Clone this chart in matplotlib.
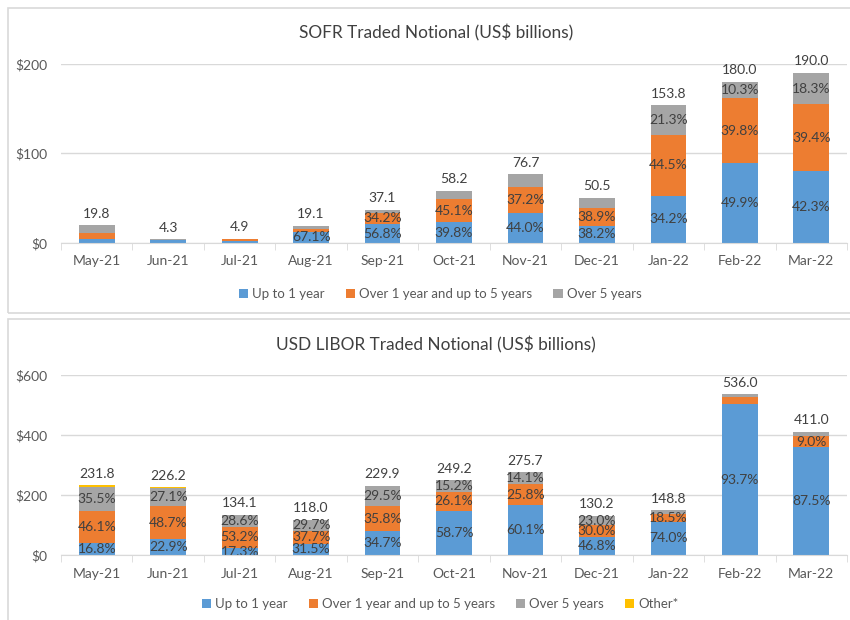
import matplotlib
matplotlib.use("Agg")
import numpy as np
from matplotlib import pyplot as plt
from matplotlib.patches import Rectangle

plt.rcParams["font.family"] = ["Lato", "DejaVu Sans"]

months = ["May-21", "Jun-21", "Jul-21", "Aug-21", "Sep-21", "Oct-21",
          "Nov-21", "Dec-21", "Jan-22", "Feb-22", "Mar-22"]

# SOFR (US$ bn) and split in % of total
sofr_total = [19.8, 4.3, 4.9, 19.1, 37.1, 58.2, 76.7, 50.5, 153.8, 180.0, 190.0]
sofr_up1 = [22.0, 65.0, 40.0, 67.1, 56.8, 39.8, 44.0, 38.2, 34.2, 49.9, 42.3]
sofr_1to5 = [34.0, 25.0, 50.0, 15.0, 34.2, 45.1, 37.2, 38.9, 44.5, 39.8, 39.4]
sofr_over5 = [44.0, 10.0, 10.0, 17.9, 9.0, 15.1, 18.8, 22.9, 21.3, 10.3, 18.3]
sofr_up1_shown = [3, 4, 5, 6, 7, 8, 9, 10]
sofr_1to5_shown = [4, 5, 6, 7, 8, 9, 10]
sofr_over5_shown = [8, 9, 10]

# USD LIBOR (US$ bn) and split in % of total
libor_total = [231.8, 226.2, 134.1, 118.0, 229.9, 249.2, 275.7, 130.2, 148.8, 536.0, 411.0]
libor_up1 = [16.8, 22.9, 17.3, 31.5, 34.7, 58.7, 60.1, 46.8, 74.0, 93.7, 87.5]
libor_1to5 = [46.1, 48.7, 53.2, 37.7, 35.8, 26.1, 25.8, 30.0, 18.5, 4.5, 9.0]
libor_over5 = [35.5, 27.1, 28.6, 29.7, 29.5, 15.2, 14.1, 23.0, 7.2, 1.8, 3.5]
libor_other = [1.6, 1.3, 0.9, 1.1, 0.4, 0.4, 0.0, 0.4, 0.3, 0.0, 0.0]
libor_up1_shown = [0, 1, 2, 3, 4, 5, 6, 7, 8, 9, 10]
libor_1to5_shown = [0, 1, 2, 3, 4, 5, 6, 7, 8, 10]
libor_over5_shown = [0, 1, 2, 3, 4, 5, 6, 7]
libor_other_shown = []

series_names = ["Up to 1 year", "Over 1 year and up to 5 years", "Over 5 years", "Other*"]
colors = ["#5B9BD5", "#ED7D31", "#A5A5A5", "#FFC000"]
txt = "#404040"
axis_txt = "#595959"
grid_c = "#D9D9D9"

W, H = 850, 620
fig = plt.figure(figsize=(8.5, 6.2), dpi=100)


def fx(px):
    return px / W


def fy(py):
    return 1 - py / H


def draw_panel(rect, title, title_y, totals, shares, shown, ymax, ystep, legend_y, legend_x, n_series):
    ax = fig.add_axes(rect)
    x = np.arange(len(months))
    bottom = np.zeros(len(months))
    for k in range(n_series):
        vals = np.array(totals) * np.array(shares[k]) / 100.0
        ax.bar(x, vals, 0.5, bottom=bottom, color=colors[k], label=series_names[k], zorder=3)
        for i in shown[k]:
            ax.text(x[i], bottom[i] + vals[i] / 2, f"{shares[k][i]:.1f}%", ha="center", va="center",
                    fontsize=10, color=txt, zorder=4)
        bottom += vals
    for i, t in enumerate(totals):
        ax.annotate(f"{t:.1f}", (x[i], t), xytext=(0, 4), textcoords="offset points",
                    ha="center", va="bottom", fontsize=10, color=txt, annotation_clip=False)

    ax.set_xlim(-0.5, len(months) - 0.5)
    ax.set_ylim(0, ymax)
    ax.set_yticks(np.arange(0, ymax + 1, ystep))
    ax.set_yticklabels([f"${v:.0f}" for v in np.arange(0, ymax + 1, ystep)])
    ax.set_xticks(x)
    ax.set_xticklabels(months)
    ax.set_xticks(np.arange(-0.5, len(months)), minor=True)
    ax.tick_params(axis="x", which="major", length=0, pad=9, labelsize=10, labelcolor=axis_txt)
    ax.tick_params(axis="x", which="minor", length=5, color=grid_c)
    ax.tick_params(axis="y", length=0, pad=10, labelsize=10, labelcolor=axis_txt)
    ax.grid(axis="y", color=grid_c, linewidth=1, zorder=0)
    for s in ["top", "right", "left"]:
        ax.spines[s].set_visible(False)
    ax.spines["bottom"].set_color(grid_c)
    ax.spines["bottom"].set_zorder(5)

    fig.text(0.513, fy(title_y), title, ha="center", va="center", fontsize=12.4, color=txt)
    handles, labels = ax.get_legend_handles_labels()
    fig.legend(handles, labels, loc="center", bbox_to_anchor=(legend_x, fy(legend_y)), ncol=n_series,
               frameon=False, fontsize=9.5, handlelength=0.7, handleheight=0.7, handletextpad=0.3,
               columnspacing=1.6, labelcolor=axis_txt)
    return ax


# panel frames
fig.add_artist(Rectangle((fx(8), fy(313)), fx(850), (313 - 8) / H, transform=fig.transFigure,
                         fill=False, edgecolor=grid_c, linewidth=1.2))
fig.add_artist(Rectangle((fx(8), fy(625)), fx(850), (625 - 319) / H, transform=fig.transFigure,
                         fill=False, edgecolor=grid_c, linewidth=1.2))

draw_panel([fx(61), fy(243), fx(847 - 61), (243 - 64) / H],
           "SOFR Traded Notional (US$ billions)", 33,
           sofr_total, [sofr_up1, sofr_1to5, sofr_over5],
           [sofr_up1_shown, sofr_1to5_shown, sofr_over5_shown],
           200, 100, 294, 0.518, 3)

draw_panel([fx(61), fy(555), fx(847 - 61), (555 - 375) / H],
           "USD LIBOR Traded Notional (US$ billions)", 345,
           libor_total, [libor_up1, libor_1to5, libor_over5, libor_other],
           [libor_up1_shown, libor_1to5_shown, libor_over5_shown, libor_other_shown],
           600, 200, 604, 0.518, 4)

fig.savefig("out.png", dpi=100, facecolor="white")
